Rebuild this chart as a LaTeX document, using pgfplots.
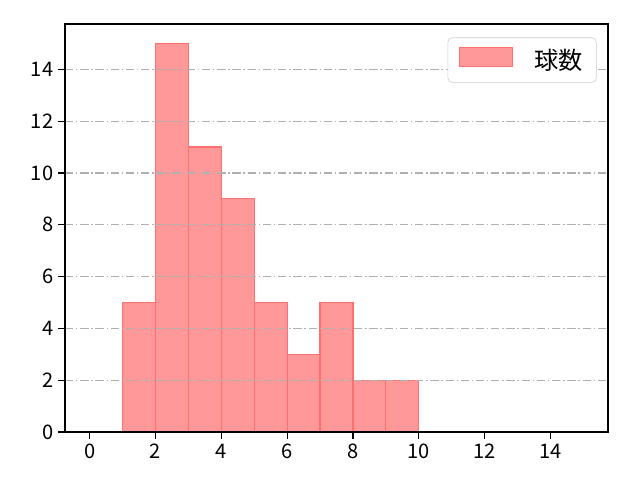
\documentclass[border=0pt]{standalone}
\usepackage{fontspec}
\setmainfont{Noto Sans CJK JP}
\usepackage{pgfplots}
\pgfplotsset{compat=1.18}
\definecolor{barfill}{HTML}{FF9999}
\definecolor{baredge}{HTML}{FF6F6F}
\definecolor{gridgray}{HTML}{B0B0B0}
\begin{document}
\begin{tikzpicture}
\path (-0.65in,-0.48in) rectangle (5.75in,4.32in);
\begin{axis}[
    scale only axis,
    width=5.43in, height=4.08in,
    xmin=-0.75, xmax=15.75,
    ymin=0, ymax=15.75,
    xtick={0,2,...,14},
    ytick={0,2,...,14},
    tick align=outside,
    major tick length=5pt,
    tick style={black, line width=0.9pt},
    axis line style={line width=1pt},
    xtick pos=bottom, ytick pos=left,
    ymajorgrids,
    major grid style={gridgray, line width=0.8pt, dash pattern=on 6pt off 2pt on 1pt off 2pt},
    axis on top,
    /pgf/number format/assume math mode=true,
    tick label style={font=\fontsize{14.5}{17}\selectfont},
    legend style={at={(0.979,0.967)}, anchor=north east, draw=gray!40, rounded corners=3pt,
        font=\fontsize{17.5}{20}\selectfont, inner xsep=8pt, inner ysep=6pt},
    legend cell align=left,
    legend image code/.code={\draw[#1, sharp corners] (0in,-0.065in) rectangle (0.53in,0.125in);},
]
\addplot[ybar interval, fill=barfill, draw=baredge, line width=0.8pt] coordinates {
    (1,5)(2,15)(3,11)(4,9)(5,5)(6,3)(7,5)(8,2)(9,2)(10,2)
};
\addlegendentry{\hspace{0.75em}球数}
\end{axis}
\end{tikzpicture}
\end{document}
